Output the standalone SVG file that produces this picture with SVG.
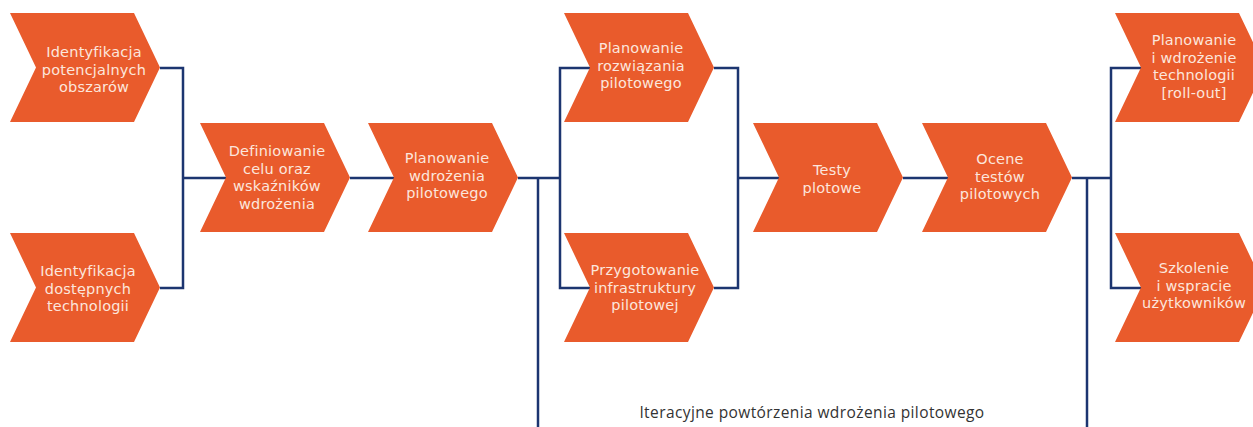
<svg xmlns="http://www.w3.org/2000/svg" width="1253" height="427" viewBox="0 0 1253 427">
<style>
.node path{fill:#E95B2C;}
.node text{fill:#FCE6DC;font-family:"DejaVu Sans","Liberation Sans",sans-serif;font-size:14.5px;letter-spacing:0.2px;font-weight:400;text-anchor:middle;}
#connectors path{fill:none;stroke:#1C3570;stroke-width:2.5;}
.note{fill:#333333;font-family:"Open Sans","Liberation Sans",sans-serif;font-size:15.5px;letter-spacing:0.4px;text-anchor:middle;}
</style>
<defs>
<path id="chev" d="M0,0 H124 L150,54.5 L124,109 H0 L26,54.5 Z"/>
</defs>
<g id="connectors">
<path d="M160,68 H183 V288 H160"/>
<path d="M183,178 H227"/>
<path d="M350,178 H395"/>
<path d="M518,178 H560"/>
<path d="M590,68 H560 V288 H590"/>
<path d="M538,178 V427"/>
<path d="M714,68 H738 V288 H714"/>
<path d="M738,178 H780"/>
<path d="M903,178 H949"/>
<path d="M1072,178 H1111"/>
<path d="M1141,68 H1111 V288 H1141"/>
<path d="M1087,178 V427"/>
</g>
<g id="n1" class="node"><use href="#chev" x="10" y="13" style="fill:#E95B2C"/><text><tspan x="94" y="57">Identyfikacja</tspan><tspan x="94" y="74.5">potencjalnych</tspan><tspan x="94" y="92">obszarów</tspan></text></g>
<g id="n2" class="node"><use href="#chev" x="10" y="233" style="fill:#E95B2C"/><text><tspan x="88" y="276">Identyfikacja</tspan><tspan x="88" y="293.5">dostępnych</tspan><tspan x="88" y="311">technologii</tspan></text></g>
<g id="n3" class="node"><use href="#chev" x="200" y="123" style="fill:#E95B2C"/><text><tspan x="277" y="156">Definiowanie</tspan><tspan x="277" y="173.5">celu oraz</tspan><tspan x="277" y="191">wskaźników</tspan><tspan x="277" y="208.5">wdrożenia</tspan></text></g>
<g id="n4" class="node"><use href="#chev" x="368" y="123" style="fill:#E95B2C"/><text><tspan x="447" y="163">Planowanie</tspan><tspan x="447" y="180.5">wdrożenia</tspan><tspan x="447" y="198">pilotowego</tspan></text></g>
<g id="n5" class="node"><use href="#chev" x="564" y="13" style="fill:#E95B2C"/><text><tspan x="641" y="53">Planowanie</tspan><tspan x="641" y="70.5">rozwiązania</tspan><tspan x="641" y="88">pilotowego</tspan></text></g>
<g id="n6" class="node"><use href="#chev" x="564" y="233" style="fill:#E95B2C"/><text><tspan x="645" y="275">Przygotowanie</tspan><tspan x="645" y="292.5">infrastruktury</tspan><tspan x="645" y="310">pilotowej</tspan></text></g>
<g id="n7" class="node"><use href="#chev" x="753" y="123" style="fill:#E95B2C"/><text><tspan x="832" y="175">Testy</tspan><tspan x="832" y="192.5">plotowe</tspan></text></g>
<g id="n8" class="node"><use href="#chev" x="922" y="123" style="fill:#E95B2C"/><text><tspan x="1000" y="164">Ocene</tspan><tspan x="1000" y="181.5">testów</tspan><tspan x="1000" y="199">pilotowych</tspan></text></g>
<g id="n9" class="node"><use href="#chev" x="1115" y="13" style="fill:#E95B2C"/><text><tspan x="1194" y="45">Planowanie</tspan><tspan x="1194" y="62.5">i wdrożenie</tspan><tspan x="1194" y="80">technologii</tspan><tspan x="1194" y="97.5">[roll-out]</tspan></text></g>
<g id="n10" class="node"><use href="#chev" x="1115" y="233" style="fill:#E95B2C"/><text><tspan x="1194" y="273">Szkolenie</tspan><tspan x="1194" y="290.5">i wspracie</tspan><tspan x="1194" y="308">użytkowników</tspan></text></g>
<text class="note" x="812" y="418">Iteracyjne powtórzenia wdrożenia pilotowego</text>
</svg>
